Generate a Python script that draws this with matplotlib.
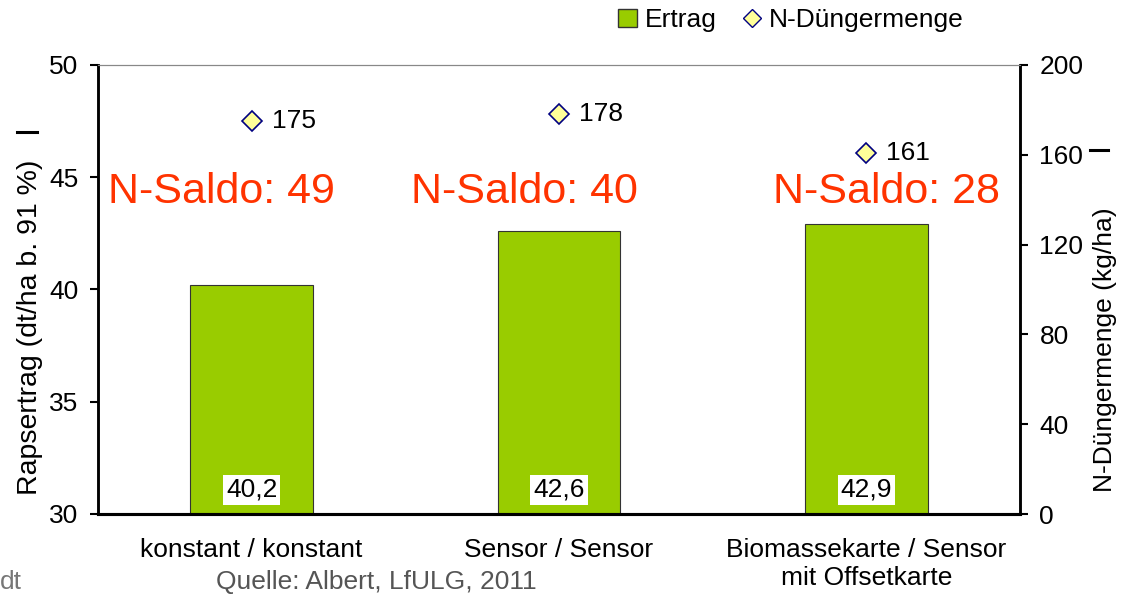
import matplotlib
matplotlib.use("Agg")
import matplotlib.pyplot as plt
from matplotlib.lines import Line2D
from matplotlib.patches import Patch

plt.rcParams['font.family'] = ['Liberation Sans', 'DejaVu Sans']

categories = ["konstant / konstant", "Sensor / Sensor", "Biomassekarte / Sensor\nmit Offsetkarte"]
ertrag = [40.2, 42.6, 42.9]
ertrag_labels = ["40,2", "42,6", "42,9"]
dunger = [175, 178, 161]
saldo_labels = ["N-Saldo: 49", "N-Saldo: 40", "N-Saldo: 28"]
saldo_x = [-0.097, -0.111, 0.067]

W, H = 1130, 596
fig = plt.figure(figsize=(W / 100, H / 100), dpi=100)
ax = fig.add_axes([98/W, 82/H, 922/W, 449/H])
ax2 = ax.twinx()

x = list(range(len(categories)))
ax.bar(x, [e - 30 for e in ertrag], bottom=30, width=0.4, color="#99CC00",
       edgecolor="#333333", linewidth=0.8, zorder=2)
ax.set_xlim(-0.5, 2.5)
ax.set_ylim(30, 50)
ax.set_yticks([30, 35, 40, 45, 50])
ax.set_xticks(x)
ax.set_xticklabels(categories, fontsize=19, linespacing=1.25)
ax.tick_params(axis='x', length=0, pad=17)
ax.tick_params(axis='y', labelsize=19, length=6, width=1.5, direction='out', pad=8)
ax.set_ylabel("Rapsertrag (dt/ha b. 91 %)", fontsize=20.5)
ax.yaxis.set_label_coords((43 - 98) / 922, (514 - 327) / 449)

for xi, lab in zip(x, ertrag_labels):
    ax.text(xi, 31.07, lab, ha='center', va='center', fontsize=19, zorder=4,
            bbox=dict(facecolor='white', edgecolor='none', pad=2))

for xi, lab, dx in zip(x, saldo_labels, saldo_x):
    ax.text(xi + dx, 44.35, lab, ha='center', va='center', fontsize=31,
            color="#FF3300", zorder=5)

ax2.plot(x, dunger, linestyle='none', marker='D', markersize=10,
         markerfacecolor="#FFFF99", markeredgecolor="#000080", markeredgewidth=1.2, zorder=5)
for xi, d in zip(x, dunger):
    ax2.text(xi + 0.065, d, str(d), ha='left', va='center', fontsize=19)
ax2.set_ylim(0, 200)
ax2.set_yticks([0, 40, 80, 120, 160, 200])
ax2.tick_params(axis='y', labelsize=19, length=6, width=1.5, direction='out', pad=8)
ax2.set_ylabel("N-Düngermenge (kg/ha)", fontsize=19)
ax2.yaxis.set_label_coords((1093 - 98) / 922, (514 - 350) / 449)

for a in (ax, ax2):
    a.spines['left'].set_linewidth(1.8)
    a.spines['right'].set_linewidth(1.8)
    a.spines['bottom'].set_linewidth(2.2)
    a.spines['top'].set_linewidth(0.8)
    a.spines['top'].set_color('#888888')

handles = [Patch(facecolor="#99CC00", edgecolor="#333333", label="Ertrag"),
           Line2D([], [], linestyle='none', marker='D', markersize=9,
                  markerfacecolor="#FFFF99", markeredgecolor="#000080", label="N-Düngermenge")]
fig.legend(handles=handles, loc='center', bbox_to_anchor=(791/W, 1 - 20/H), ncol=2,
           frameon=False, fontsize=19, handlelength=0.7, handletextpad=0.3,
           columnspacing=1.0, borderpad=0)

# small stray dash marks present in the reference
fig.add_artist(Line2D([17/W, 37/W], [1 - 132/H, 1 - 132/H], color='black', lw=2.2))
fig.add_artist(Line2D([1090/W, 1108/W], [1 - 150/H, 1 - 150/H], color='black', lw=2.2))

fig.text(0, 1 - 582/H, "dt", fontsize=19, color="#777777", ha='left', va='center')
fig.text(376/W, 1 - 582/H, "Quelle: Albert, LfULG, 2011", fontsize=19,
         color="#555555", ha='center', va='center')

fig.savefig("out.png", dpi=100)
